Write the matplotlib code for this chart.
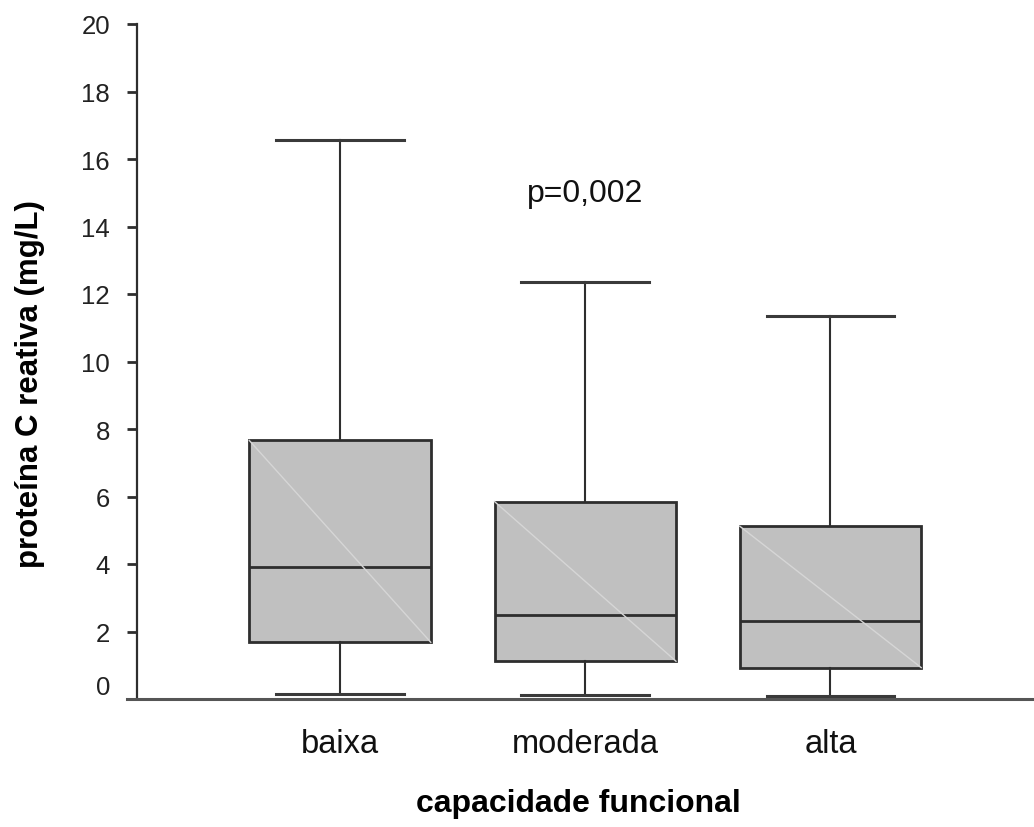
import matplotlib
matplotlib.use('Agg')
import matplotlib.pyplot as plt
from matplotlib.transforms import ScaledTranslation

# Box plot summary values
groups = ['baixa', 'moderada', 'alta']
whis_low = [0.15, 0.11, 0.10]
q1 = [1.68, 1.12, 0.93]
median = [3.90, 2.49, 2.30]
q3 = [7.66, 5.85, 5.12]
whis_high = [16.57, 12.37, 11.36]
yticks = [0, 2, 4, 6, 8, 10, 12, 14, 16, 18, 20]
p_text = 'p=0,002'

plt.rcParams['font.family'] = ['Liberation Sans', 'DejaVu Sans']

stats = []
for i in range(len(groups)):
    stats.append({'label': groups[i], 'whislo': whis_low[i], 'q1': q1[i],
                  'med': median[i], 'q3': q3[i], 'whishi': whis_high[i]})

fig = plt.figure(figsize=(10.34, 8.28), dpi=100)
ax = fig.add_axes([137 / 1034, 128 / 828, 897 / 1034, 675 / 828])

pos = [1, 2, 3]
w = 0.74
ax.bxp(stats, positions=pos, widths=w, capwidths=0.52, showfliers=False,
       patch_artist=True,
       boxprops=dict(facecolor='#c0c0c0', edgecolor='#2e2e2e', linewidth=2),
       medianprops=dict(color='#2e2e2e', linewidth=2),
       whiskerprops=dict(color='#2e2e2e', linewidth=1.5),
       capprops=dict(color='#3a3a3a', linewidth=2.2))

# faint diagonal streak seen across each box
for i in range(len(groups)):
    ax.plot([pos[i] - w / 2, pos[i] + w / 2], [q3[i], q1[i]],
            color='#d6d6d6', linewidth=1, zorder=3)

ax.set_xlim(0.172, 3.83)
ax.set_ylim(0, 20)
ax.set_yticks(yticks)
ax.set_yticklabels([str(t) for t in yticks])
ax.set_xticks(pos)
ax.set_xticklabels(groups)

ax.spines['top'].set_visible(False)
ax.spines['right'].set_visible(False)
ax.spines['left'].set_color('#2e2e2e')
ax.spines['left'].set_linewidth(1.6)
ax.spines['bottom'].set_color('#555555')
ax.spines['bottom'].set_linewidth(2.2)
ax.spines['bottom'].set_bounds(0.131, 3.83)

ax.tick_params(axis='y', direction='out', length=7.5, width=2, color='#2e2e2e',
               pad=12, labelsize=18.5, labelcolor='#222222')
ax.tick_params(axis='x', length=0, pad=21, labelsize=23.5, labelcolor='#111111')

# the "0" label sits a little above its tick in the original
lab0 = ax.get_yticklabels()[0]
lab0.set_transform(lab0.get_transform() + ScaledTranslation(0, 0.14, fig.dpi_scale_trans))

ax.text(2, 15.0, p_text, ha='center', va='center', fontsize=23, color='#111111')

ax.set_xlabel('capacidade funcional', fontsize=23, fontweight='bold')
ax.xaxis.set_label_coords((578 - 137) / 897, -(789 - 700) / 675)
fig.text(30 / 1034, 1 - 384 / 828, 'proteína C reativa (mg/L)', rotation=90,
         ha='center', va='center', fontsize=22.5, fontweight='bold')

fig.savefig('out.png', dpi=100)
